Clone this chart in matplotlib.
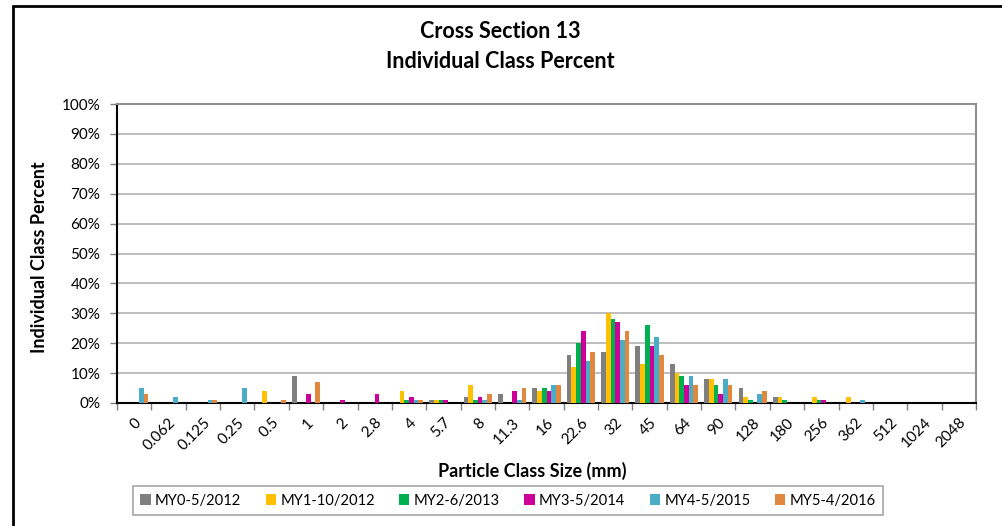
import matplotlib
matplotlib.use("Agg")
import matplotlib.pyplot as plt
import matplotlib.patches as mpatches
import numpy as np

# particle class sizes (mm) and percent per survey
sizes = ["0", "0.062", "0.125", "0.25", "0.5", "1", "2", "2.8", "4", "5.7", "8", "11.3",
         "16", "22.6", "32", "45", "64", "90", "128", "180", "256", "362", "512", "1024", "2048"]

my0 = [0, 0, 0, 0, 0, 9, 0, 0, 0, 1, 2, 3, 5, 16, 17, 19, 13, 8, 5, 2, 0, 0, 0, 0, 0]
my1 = [0, 0, 0, 0, 4, 0, 0, 0, 4, 1, 6, 0, 4, 12, 30, 13, 10, 8, 2, 2, 2, 2, 0, 0, 0]
my2 = [0, 0, 0, 0, 0, 0, 0, 0, 1, 1, 1, 0, 5, 20, 28, 26, 9, 6, 1, 1, 1, 0, 0, 0, 0]
my3 = [0, 0, 0, 0, 0, 3, 1, 3, 2, 1, 2, 4, 4, 24, 27, 19, 6, 3, 0, 0, 1, 0, 0, 0, 0]
my4 = [5, 2, 1, 5, 0, 0, 0, 0, 1, 0, 1, 1, 6, 14, 21, 22, 9, 8, 3, 0, 0, 1, 0, 0, 0]
my5 = [3, 0, 1, 0, 1, 7, 0, 0, 1, 0, 3, 5, 6, 17, 24, 16, 6, 6, 4, 0, 0, 0, 0, 0, 0]

series = [my0, my1, my2, my3, my4, my5]
names = ["MY0-5/2012", "MY1-10/2012", "MY2-6/2013", "MY3-5/2014", "MY4-5/2015", "MY5-4/2016"]
colors = ["#7f7f7f", "#ffc000", "#00b050", "#cc0099", "#4bacc6", "#e0883e"]

plt.rcParams['font.family'] = ['Lato', 'DejaVu Sans']

fig = plt.figure(figsize=(10.02, 5.26), dpi=100)
ax = fig.add_axes([117/1002, 1-403/526, (976-117)/1002, (403-104)/526])

x = np.arange(len(sizes))
w = 0.82/6
for j in range(6):
    ax.bar(x + (j-2.5)*w, series[j], width=w, color=colors[j], label=names[j], zorder=3)

ax.set_xlim(-0.5, len(sizes)-0.5)
ax.set_ylim(0, 100)
ax.set_yticks(np.arange(0, 101, 10))
ax.set_yticklabels([str(v)+"%" for v in range(0, 101, 10)], fontsize=11)
ax.yaxis.grid(True, color='#b3b3b3', linewidth=1.2, zorder=0)

ax.set_xticks(x)
ax.set_xticklabels(sizes, fontsize=11, rotation=45, ha='right', rotation_mode='anchor')
ax.set_xticks(np.arange(-0.5, len(sizes)), minor=True)
ax.tick_params(axis='x', which='major', length=0, pad=9)
ax.tick_params(axis='x', which='minor', length=5, width=1, color='#808080')
ax.tick_params(axis='y', length=5, width=1, color='#808080', pad=7)

ax.spines['left'].set_linewidth(1.5)
ax.spines['bottom'].set_linewidth(1.5)
ax.spines['top'].set_color('#909090')
ax.spines['right'].set_color('#909090')
ax.spines['top'].set_linewidth(1.5)
ax.spines['right'].set_linewidth(1.5)

fig.text(500/1002, 1-32/526, "Cross Section 13", ha='center', va='center', fontsize=15.5, fontweight='bold')
fig.text(500/1002, 1-61/526, "Individual Class Percent", ha='center', va='center', fontsize=15.5, fontweight='bold')
fig.text(40/1002, 1-257/526, "Individual Class Percent", ha='center', va='center', rotation=90,
         fontsize=13, fontweight='bold')
fig.text(532/1002, 1-471/526, "Particle Class Size (mm)", ha='center', va='center', fontsize=13, fontweight='bold')

leg = fig.legend(loc='center', bbox_to_anchor=(508/1002, 1-500.5/526), ncol=6, fontsize=10.6,
                 handlelength=0.7, handleheight=0.7, handletextpad=0.3, columnspacing=1.65,
                 fancybox=False, edgecolor='#909090', borderpad=0.5, borderaxespad=0)
leg.get_frame().set_linewidth(1.2)

# outer chart border
fig.patches.append(mpatches.Rectangle((13/1002, -0.1), 1.1, 1.1-6/526, transform=fig.transFigure,
                                      fill=False, edgecolor='black', linewidth=2))

fig.savefig("out.png", dpi=100)
